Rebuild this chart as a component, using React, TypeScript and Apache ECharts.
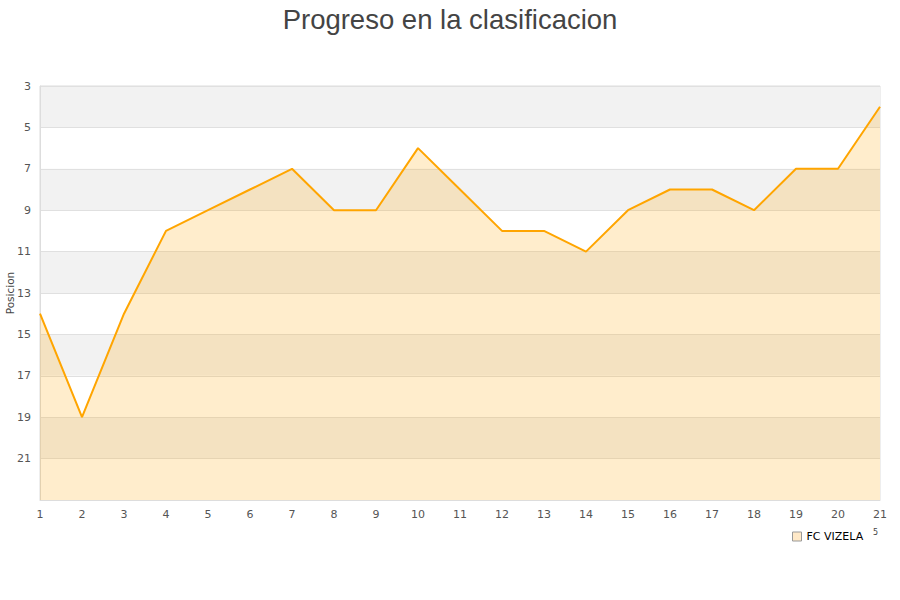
import React, { useEffect, useRef } from "react";
import * as echarts from "echarts";

const rounds = [1, 2, 3, 4, 5, 6, 7, 8, 9, 10, 11, 12, 13, 14, 15, 16, 17, 18, 19, 20, 21];
const positions = [14, 19, 14, 10, 9, 8, 7, 9, 9, 6, 8, 10, 10, 11, 9, 8, 8, 9, 7, 7, 4];
const teamName = "FC VIZELA";
const titleText = "Progreso en la clasificacion";
const yName = "Posicion";

export default function App() {
  const ref = useRef<HTMLDivElement>(null);
  useEffect(() => {
    if (!ref.current) return;
    const chart = echarts.init(ref.current, undefined, { renderer: "svg" });
    const font = "DejaVu Sans, sans-serif";
    chart.setOption({
      animation: false,
      backgroundColor: "#ffffff",
      title: {
        text: titleText,
        left: "center",
        top: 0,
        textStyle: {
          fontFamily: "Liberation Sans, Arial, sans-serif",
          fontSize: 27.5,
          fontWeight: "normal",
          color: "#444444",
        },
      },
      grid: {
        left: 40,
        right: 20,
        top: 86,
        bottom: 100,
        containLabel: false,
        outerBoundsMode: "none",
        show: true,
        borderColor: "#dddddd",
        borderWidth: 1,
        backgroundColor: "transparent",
      },
      legend: {
        data: [{ name: teamName, icon: "rect", itemStyle: { color: "#ffe9c8", borderColor: "#999999", borderWidth: 1 } }],
        left: 787,
        top: 526,
        itemWidth: 9,
        itemHeight: 9,
        itemGap: 6,
        textStyle: { fontFamily: font, fontSize: 11, color: "#000000" },
      },
      xAxis: {
        type: "value",
        min: 1,
        max: 21,
        interval: 1,
        axisLine: { show: true, lineStyle: { color: "#dddddd" } },
        axisTick: { show: false },
        splitLine: { show: false },
        axisLabel: { fontFamily: font, fontSize: 11, color: "#555555", margin: 9 },
      },
      yAxis: {
        type: "value",
        inverse: true,
        min: 3,
        max: 23,
        interval: 2,
        name: yName,
        nameLocation: "middle",
        nameGap: 25,
        nameMoveOverlap: false,
        nameTextStyle: { fontFamily: font, fontSize: 10.5, color: "#444444" },
        axisLine: { show: true, lineStyle: { color: "#dddddd" } },
        axisTick: { show: false },
        axisLabel: { fontFamily: font, fontSize: 11, color: "#555555", margin: 9, showMaxLabel: false },
        splitLine: { show: true, lineStyle: { color: "#e0e0e0", width: 1 } },
        splitArea: { show: true, areaStyle: { color: ["#f2f2f2", "#ffffff"] } },
      },
      series: [
        {
          name: teamName,
          type: "line",
          data: rounds.map((r, i) => [r, positions[i]]),
          symbol: "none",
          lineStyle: { color: "#ffa500", width: 2 },
          itemStyle: { color: "#ffa500" },
          areaStyle: { color: "rgba(255,165,0,0.2)", opacity: 1, origin: "end" },
        },
      ],
      graphic: [
        {
          type: "text",
          left: 873,
          top: 528,
          style: { text: "5", fontFamily: font, fontSize: 8, fill: "#444444" },
        },
      ],
    });
    return () => chart.dispose();
  }, []);
  return (
    <div
      ref={ref}
      style={{ position: "absolute", left: 0, top: 0, width: 900, height: 600 }}
    />
  );
}
